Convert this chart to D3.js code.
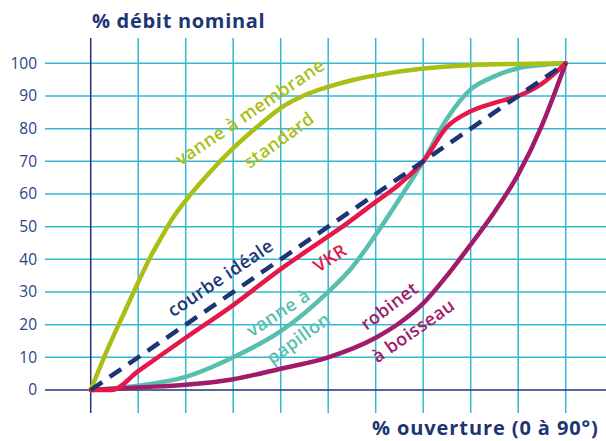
<!DOCTYPE html>
<html>
<head>
<meta charset="utf-8">
<script src="https://cdn.jsdelivr.net/npm/d3@7"></script>
<style>
  body { margin: 0; background: #fff; }
  text { font-family: "Open Sans", sans-serif; }
</style>
</head>
<body>
<script>
// values (% ouverture -> % débit)
const yTicks = [0, 10, 20, 30, 40, 50, 60, 70, 80, 90, 100];
const xGrid = [0, 10, 20, 30, 40, 50, 60, 70, 80, 90, 100];

const ideale = [[0, 0], [100, 100]];
const membrane = [[0, 0], [3.4, 12], [7, 23.5], [10, 33], [12.5, 40.5], [15, 47], [17, 52], [20, 58],
  [25, 66.5], [30, 74], [35, 80.5], [40, 86.3], [45, 90.2], [50, 92.8], [55, 94.8], [60, 96.3],
  [70, 98.4], [80, 99.4], [90, 99.8], [100, 100]];
const vkr = [[0, 0], [4.4, 0], [10, 5.8], [20, 16], [30, 26], [40, 37], [50, 47], [53, 50], [60, 57.6],
  [65, 63], [70, 70], [75, 80.5], [80, 85.3], [85, 87.9], [90, 90], [95, 93.8], [100, 100]];
const papillon = [[0, 0], [10, 1.3], [20, 4], [30, 10], [40, 18], [45, 23.5], [50, 30], [55, 37.5],
  [60, 47.5], [65, 58.5], [70, 70], [75, 83], [80, 92], [85, 96], [90, 98.5], [95, 99.5], [100, 100]];
const boisseau = [[0, 0], [10, 0.8], [20, 1.6], [30, 3.3], [40, 6.5], [50, 10], [60, 16], [65, 20.5],
  [70, 26.5], [75, 35], [80, 44.5], [85, 54.5], [90, 66], [95, 81], [100, 100]];

const width = 606, height = 441;
const x = d3.scaleLinear().domain([0, 100]).range([90.7, 565.7]);
const y = d3.scaleLinear().domain([0, 100]).range([390, 63.3]);

const navy = "#1d3574";
const cyan = "#36b8d2";

const svg = d3.select("body").append("svg")
    .attr("width", width)
    .attr("height", height);

// grid
svg.append("g").selectAll("line").data(yTicks.filter(d => d > 0)).join("line")
    .attr("x1", 45).attr("x2", width)
    .attr("y1", d => y(d)).attr("y2", d => y(d))
    .attr("stroke", cyan).attr("stroke-width", 1.5);
svg.append("g").selectAll("line").data(xGrid.filter(d => d > 0)).join("line")
    .attr("x1", d => x(d)).attr("x2", d => x(d))
    .attr("y1", 38).attr("y2", 413)
    .attr("stroke", cyan).attr("stroke-width", 1.5);

// axes lines
svg.append("line").attr("x1", 45).attr("x2", width).attr("y1", y(0)).attr("y2", y(0))
    .attr("stroke", navy).attr("stroke-width", 1.5);
svg.append("line").attr("x1", x(0)).attr("x2", x(0)).attr("y1", 38).attr("y2", 413)
    .attr("stroke", navy).attr("stroke-width", 1.5);

// y tick labels
svg.append("g").selectAll("text").data(yTicks).join("text")
    .attr("x", 37).attr("y", d => y(d)).attr("dy", "0.35em")
    .attr("text-anchor", "end")
    .attr("fill", "#2e4283")
    .style("font-size", "15.5px")
    .text(d => d);

// titles
svg.append("text").attr("x", 92).attr("y", 28)
    .attr("fill", navy).style("font-size", "20px").style("font-weight", 700)
    .style("letter-spacing", "0.7px")
    .text("% débit nominal");
svg.append("text").attr("x", 372).attr("y", 435)
    .attr("fill", navy).style("font-size", "20px").style("font-weight", 700)
    .style("letter-spacing", "0.9px")
    .text("% ouverture (0 à 90°)");

// curves
const line = d3.line().x(d => x(d[0])).y(d => y(d[1])).curve(d3.curveMonotoneX);
const series = [
  { data: papillon, color: "#56bfae" },
  { data: boisseau, color: "#a21b6b" },
  { data: membrane, color: "#abbe14" },
  { data: vkr, color: "#e6184b" }
];
svg.append("g").selectAll("path").data(series).join("path")
    .attr("d", d => line(d.data))
    .attr("fill", "none")
    .attr("stroke", d => d.color)
    .attr("stroke-width", 4.5)
    .attr("stroke-linecap", "round");

svg.append("path")
    .attr("d", line(ideale))
    .attr("fill", "none")
    .attr("stroke", navy)
    .attr("stroke-width", 4.5)
    .attr("stroke-dasharray", "14,9");

// curve labels
const labels = [
  { t: "vanne à membrane", x: 250, y: 112, a: -34, c: "#abbe14" },
  { t: "standard", x: 279, y: 140, a: -36, c: "#abbe14" },
  { t: "courbe idéale", x: 220.5, y: 278, a: -34, c: navy },
  { t: "VKR", x: 330, y: 258, a: -33, c: "#e6184b" },
  { t: "vanne à", x: 278.3, y: 312.7, a: -33, c: "#56bfae" },
  { t: "papillon", x: 298.3, y: 338.3, a: -36, c: "#56bfae" },
  { t: "robinet", x: 389.3, y: 306, a: -37, c: "#a21b6b" },
  { t: "à boisseau", x: 413.3, y: 330.7, a: -35, c: "#a21b6b" }
];
svg.append("g").selectAll("text").data(labels).join("text")
    .attr("transform", d => `translate(${d.x},${d.y}) rotate(${d.a})`)
    .attr("text-anchor", "middle")
    .attr("dy", "0.35em")
    .attr("fill", d => d.c)
    .style("font-size", "18px")
    .style("font-weight", 600)
    .style("letter-spacing", "0.4px")
    .text(d => d.t);
</script>
</body>
</html>
